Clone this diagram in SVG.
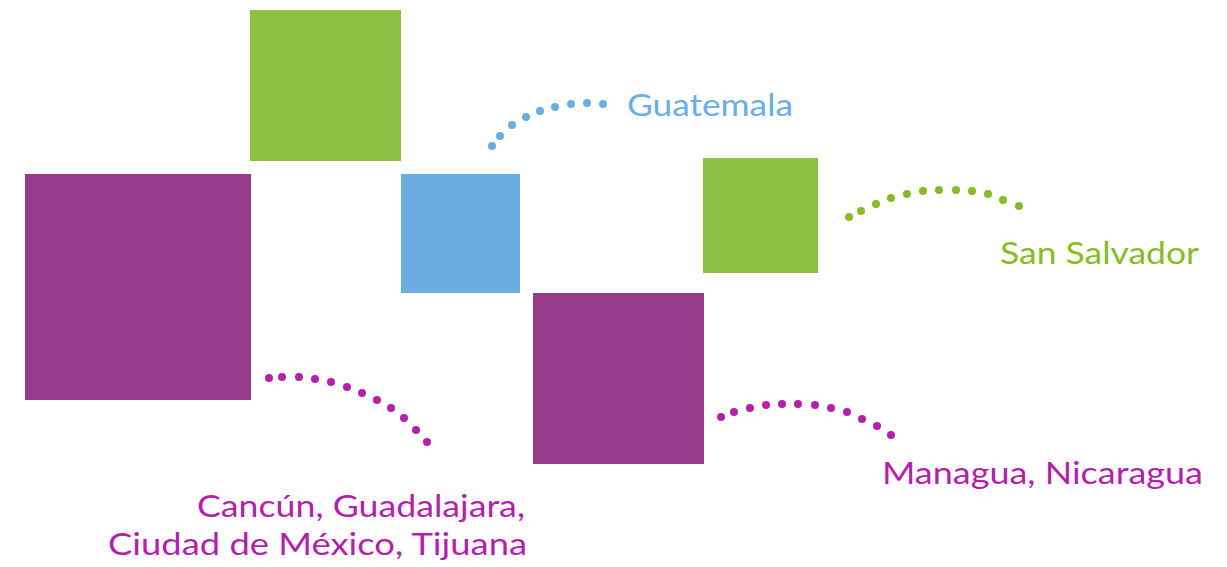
<svg xmlns="http://www.w3.org/2000/svg" width="1227" height="567" viewBox="0 0 1227 567">
<style>
.lbl{font-family:Lato,"Noto Sans",sans-serif;font-size:31px}
.g{fill:#8DC043}.p{fill:#983A8B}.b{fill:#6CADE0}
.db circle{fill:#6CADE0}.dg circle{fill:#86BC24}.dm circle{fill:#B41FAB}
</style>
<rect width="1227" height="567" fill="#fff"/>
<g id="box-green-top"><rect class="g" x="250" y="10" width="151" height="151"/></g>
<g id="box-purple-left"><rect class="p" x="25" y="174" width="226" height="226"/></g>
<g id="box-blue"><rect class="b" x="401" y="174" width="119" height="119"/></g>
<g id="box-green-right"><rect class="g" x="703" y="158" width="115" height="115"/></g>
<g id="box-purple-center"><rect class="p" x="533" y="293" width="171" height="171"/></g>
<g id="connectors">
<g class="db">
<circle cx="492" cy="146" r="4"/><circle cx="500" cy="136" r="4"/><circle cx="512" cy="125" r="4"/><circle cx="526" cy="117" r="4"/><circle cx="540" cy="111" r="4"/><circle cx="555" cy="107" r="4"/><circle cx="571" cy="104" r="4"/><circle cx="587" cy="103" r="4"/><circle cx="603" cy="104" r="4"/>
</g>
<g class="dg">
<circle cx="849" cy="217" r="4"/><circle cx="861" cy="211" r="4"/><circle cx="876" cy="204" r="4"/><circle cx="891" cy="198" r="4"/><circle cx="907" cy="194" r="4"/><circle cx="923" cy="191" r="4"/><circle cx="939" cy="190" r="4"/><circle cx="956" cy="190" r="4"/><circle cx="972" cy="191" r="4"/><circle cx="988" cy="194" r="4"/><circle cx="1003" cy="200" r="4"/><circle cx="1019" cy="206" r="4"/>
</g>
<g class="dm">
<circle cx="269" cy="378" r="4"/><circle cx="282" cy="377" r="4"/><circle cx="299" cy="377" r="4"/><circle cx="315" cy="379" r="4"/><circle cx="331" cy="382" r="4"/><circle cx="347" cy="387" r="4"/><circle cx="362" cy="393" r="4"/><circle cx="377" cy="400" r="4"/><circle cx="391" cy="408" r="4"/><circle cx="404" cy="418" r="4"/><circle cx="416" cy="430" r="4"/><circle cx="427" cy="442" r="4"/>
<circle cx="721" cy="417" r="4"/><circle cx="734" cy="412" r="4"/><circle cx="750" cy="408" r="4"/><circle cx="766" cy="405" r="4"/><circle cx="782" cy="404" r="4"/><circle cx="798" cy="404" r="4"/><circle cx="815" cy="405" r="4"/><circle cx="831" cy="408" r="4"/><circle cx="847" cy="412" r="4"/><circle cx="862" cy="419" r="4"/><circle cx="877" cy="426" r="4"/><circle cx="891" cy="435" r="4"/>
</g>
</g>
<g id="label-guatemala"><text class="lbl" x="627" y="116" fill="#6AAEE4" textLength="166" lengthAdjust="spacingAndGlyphs">Guatemala</text></g>
<g id="label-san-salvador"><text class="lbl" x="1000" y="264" fill="#86BC24" textLength="199" lengthAdjust="spacingAndGlyphs">San Salvador</text></g>
<g id="label-managua"><text class="lbl" x="882" y="484" fill="#B41FAB" textLength="321" lengthAdjust="spacingAndGlyphs">Managua, Nicaragua</text></g>
<g id="label-mexico"><text class="lbl" x="197" y="517" fill="#B41FAB" textLength="328" lengthAdjust="spacingAndGlyphs">Cancún, Guadalajara,</text><text class="lbl" x="108" y="555" fill="#B41FAB" textLength="419" lengthAdjust="spacingAndGlyphs">Ciudad de México, Tijuana</text></g>
</svg>
